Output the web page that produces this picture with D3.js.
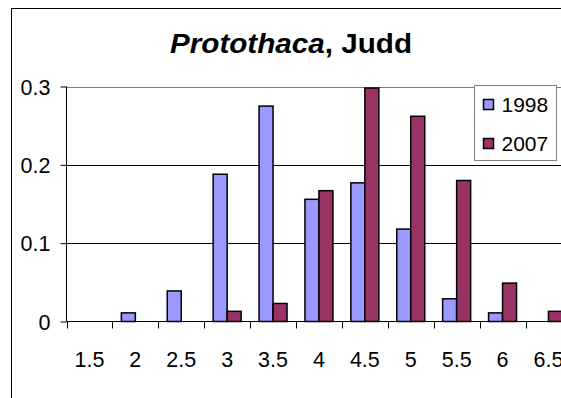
<!DOCTYPE html>
<html>
<head>
<meta charset="utf-8">
<script src="https://cdn.jsdelivr.net/npm/d3@7"></script>
<style>
  body { margin: 0; background: #fff; }
  svg text { font-family: Arial, "Liberation Sans", sans-serif; fill: #000; }
</style>
</head>
<body>
<svg id="chart" width="561" height="398"></svg>
<script>
// size classes (mm) along the x axis
const categories = ["1.5", "2", "2.5", "3", "3.5", "4", "4.5", "5", "5.5", "6", "6.5"];
const years = ["1998", "2007"];
// proportion of clams in each size class
const values1998 = [0, 0.011, 0.039, 0.188, 0.275, 0.156, 0.177, 0.118, 0.029, 0.011, 0];
const values2007 = [0, 0, 0, 0.013, 0.023, 0.167, 0.298, 0.262, 0.180, 0.049, 0.013];
const yTicks = [0, 0.1, 0.2, 0.3];
const colors = {"1998": "#9999ff", "2007": "#993366"};

const svg = d3.select("#chart");

// outer chart frame, runs off the right and bottom of the picture
svg.append("rect")
    .attr("x", 11.5).attr("y", 8.5)
    .attr("width", 600).attr("height", 450)
    .attr("fill", "#fff").attr("stroke", "#000").attr("stroke-width", 1);

// title: genus in italics
const title = svg.append("text")
    .attr("x", 291).attr("y", 53)
    .attr("text-anchor", "middle")
    .attr("textLength", 242).attr("lengthAdjust", "spacingAndGlyphs")
    .style("font-size", "27px").style("font-weight", "bold");
title.append("tspan").style("font-style", "italic").text("Protothaca");
title.append("tspan").text(", Judd");

const plotLeft = 66.5, plotTop = 86.5, plotBottom = 321.5;
const step = 45.9;

const x = d3.scaleBand()
    .domain(categories)
    .range([plotLeft, plotLeft + step * categories.length])
    .paddingInner(0).paddingOuter(0);

const xSub = d3.scaleBand()
    .domain(years)
    .range([0, x.bandwidth()])
    .paddingInner(0).paddingOuter(0.64);

const y = d3.scaleLinear()
    .domain([0, 0.3])
    .range([plotBottom, plotTop]);

// gridlines
svg.append("g")
    .selectAll("line")
    .data(yTicks.filter(d => d > 0))
    .join("line")
    .attr("x1", plotLeft).attr("x2", 561)
    .attr("y1", d => Math.round(y(d)) + 0.5).attr("y2", d => Math.round(y(d)) + 0.5)
    .attr("stroke", d => d === 0.3 ? "#808080" : "#000")
    .attr("stroke-width", 1);

// y axis
const yAxis = svg.append("g")
    .attr("transform", `translate(${plotLeft},0)`)
    .call(d3.axisLeft(y).tickValues(yTicks).tickSize(6).tickPadding(10)
        .tickFormat(d => d === 0 ? "0" : d3.format(".1f")(d)));
yAxis.select(".domain").attr("stroke", "#000").attr("d", `M-0,${plotTop}V${plotBottom}`);
yAxis.selectAll(".tick line").attr("stroke", "#000");
yAxis.selectAll("text").style("font-size", "21.5px").attr("dy", "0.35em");

// bars
const rows = categories.map((c, i) => ({cat: c, "1998": values1998[i], "2007": values2007[i]}));

svg.append("g")
    .selectAll("g")
    .data(rows)
    .join("g")
    .attr("transform", d => `translate(${x(d.cat)},0)`)
    .selectAll("rect")
    .data(d => years.map(k => ({key: k, value: d[k]})).filter(d => d.value > 0))
    .join("rect")
    .attr("x", d => xSub(d.key))
    .attr("y", d => y(d.value))
    .attr("width", xSub.bandwidth())
    .attr("height", d => y(0) - y(d.value))
    .attr("fill", d => colors[d.key])
    .attr("stroke", "#000")
    .attr("stroke-width", 1.5);

// x axis with ticks between categories
const xAxis = svg.append("g")
    .attr("transform", `translate(0,${plotBottom})`);
xAxis.append("line")
    .attr("x1", plotLeft).attr("x2", 561)
    .attr("stroke", "#000");
xAxis.selectAll(".tk")
    .data(categories)
    .join("line")
    .attr("class", "tk")
    .attr("x1", d => Math.round(x(d)) + 0.5).attr("x2", d => Math.round(x(d)) + 0.5)
    .attr("y1", 0).attr("y2", 7)
    .attr("stroke", "#000");
xAxis.selectAll("text")
    .data(categories)
    .join("text")
    .attr("x", d => x(d) + x.bandwidth() / 2)
    .attr("y", 45)
    .attr("text-anchor", "middle")
    .style("font-size", "21.5px")
    .text(d => d);

// legend
const legend = svg.append("g").attr("transform", "translate(474.5,85.5)");
legend.append("rect")
    .attr("width", 82).attr("height", 75)
    .attr("fill", "#fff").attr("stroke", "#808080");
const items = legend.selectAll("g")
    .data(years)
    .join("g")
    .attr("transform", (d, i) => `translate(9,${14 + i * 39})`);
items.append("rect")
    .attr("width", 10).attr("height", 10)
    .attr("fill", d => colors[d]).attr("stroke", "#000").attr("stroke-width", 1.5);
items.append("text")
    .attr("x", 18).attr("y", 12.5)
    .style("font-size", "21px")
    .text(d => d);
</script>
</body>
</html>
